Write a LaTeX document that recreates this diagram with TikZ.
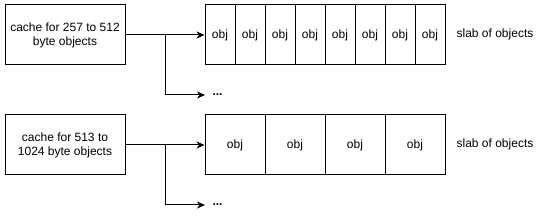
\documentclass[tikz,border=0pt]{standalone}
\usepackage{fontspec}
\setmainfont{Liberation Sans}
\usetikzlibrary{arrows.meta}
\begin{document}
\begin{tikzpicture}[x=1pt,y=-1pt,line width=1pt,
  every node/.style={font=\fontsize{12}{14}\selectfont},
  cachebox/.style={draw,minimum width=120pt,minimum height=60pt,align=center,inner sep=0pt},
  objsmall/.style={draw,minimum width=30pt,minimum height=60pt,inner sep=0pt},
  objbig/.style={draw,minimum width=60pt,minimum height=60pt,inner sep=0pt},
  arr/.style={-{Stealth[length=8pt,width=7pt,inset=2.5pt]}},
  dots/.style={anchor=west,inner xsep=7pt,inner ysep=0pt,font=\fontsize{12}{14}\selectfont\bfseries}]
\useasboundingbox (0,0) rectangle (551,221);
% top
\node[cachebox] (c1) at (65,35) {cache for 257 to 512\\byte objects};
\foreach \i in {1,...,8} {
  \node[objsmall] (sa\i) at ({190+30*\i},35) {obj};
}
\node (l1) at (495,34) {slab of objects};
\coordinate (br1) at (165,35);
\node[dots] (d1) at (205,95) {...};
\draw[arr] (c1.east) -- (sa1.west);
\draw[arr] (br1) |- (d1.west);
% bottom
\node[cachebox] (c2) at (65,145) {cache for 513 to\\1024 byte objects};
\foreach \i in {1,...,4} {
  \node[objbig] (sb\i) at ({175+60*\i},145) {obj};
}
\node (l2) at (495,144) {slab of objects};
\coordinate (br2) at (165,145);
\node[dots] (d2) at (205,205) {...};
\draw[arr] (c2.east) -- (sb1.west);
\draw[arr] (br2) |- (d2.west);
\end{tikzpicture}
\end{document}
